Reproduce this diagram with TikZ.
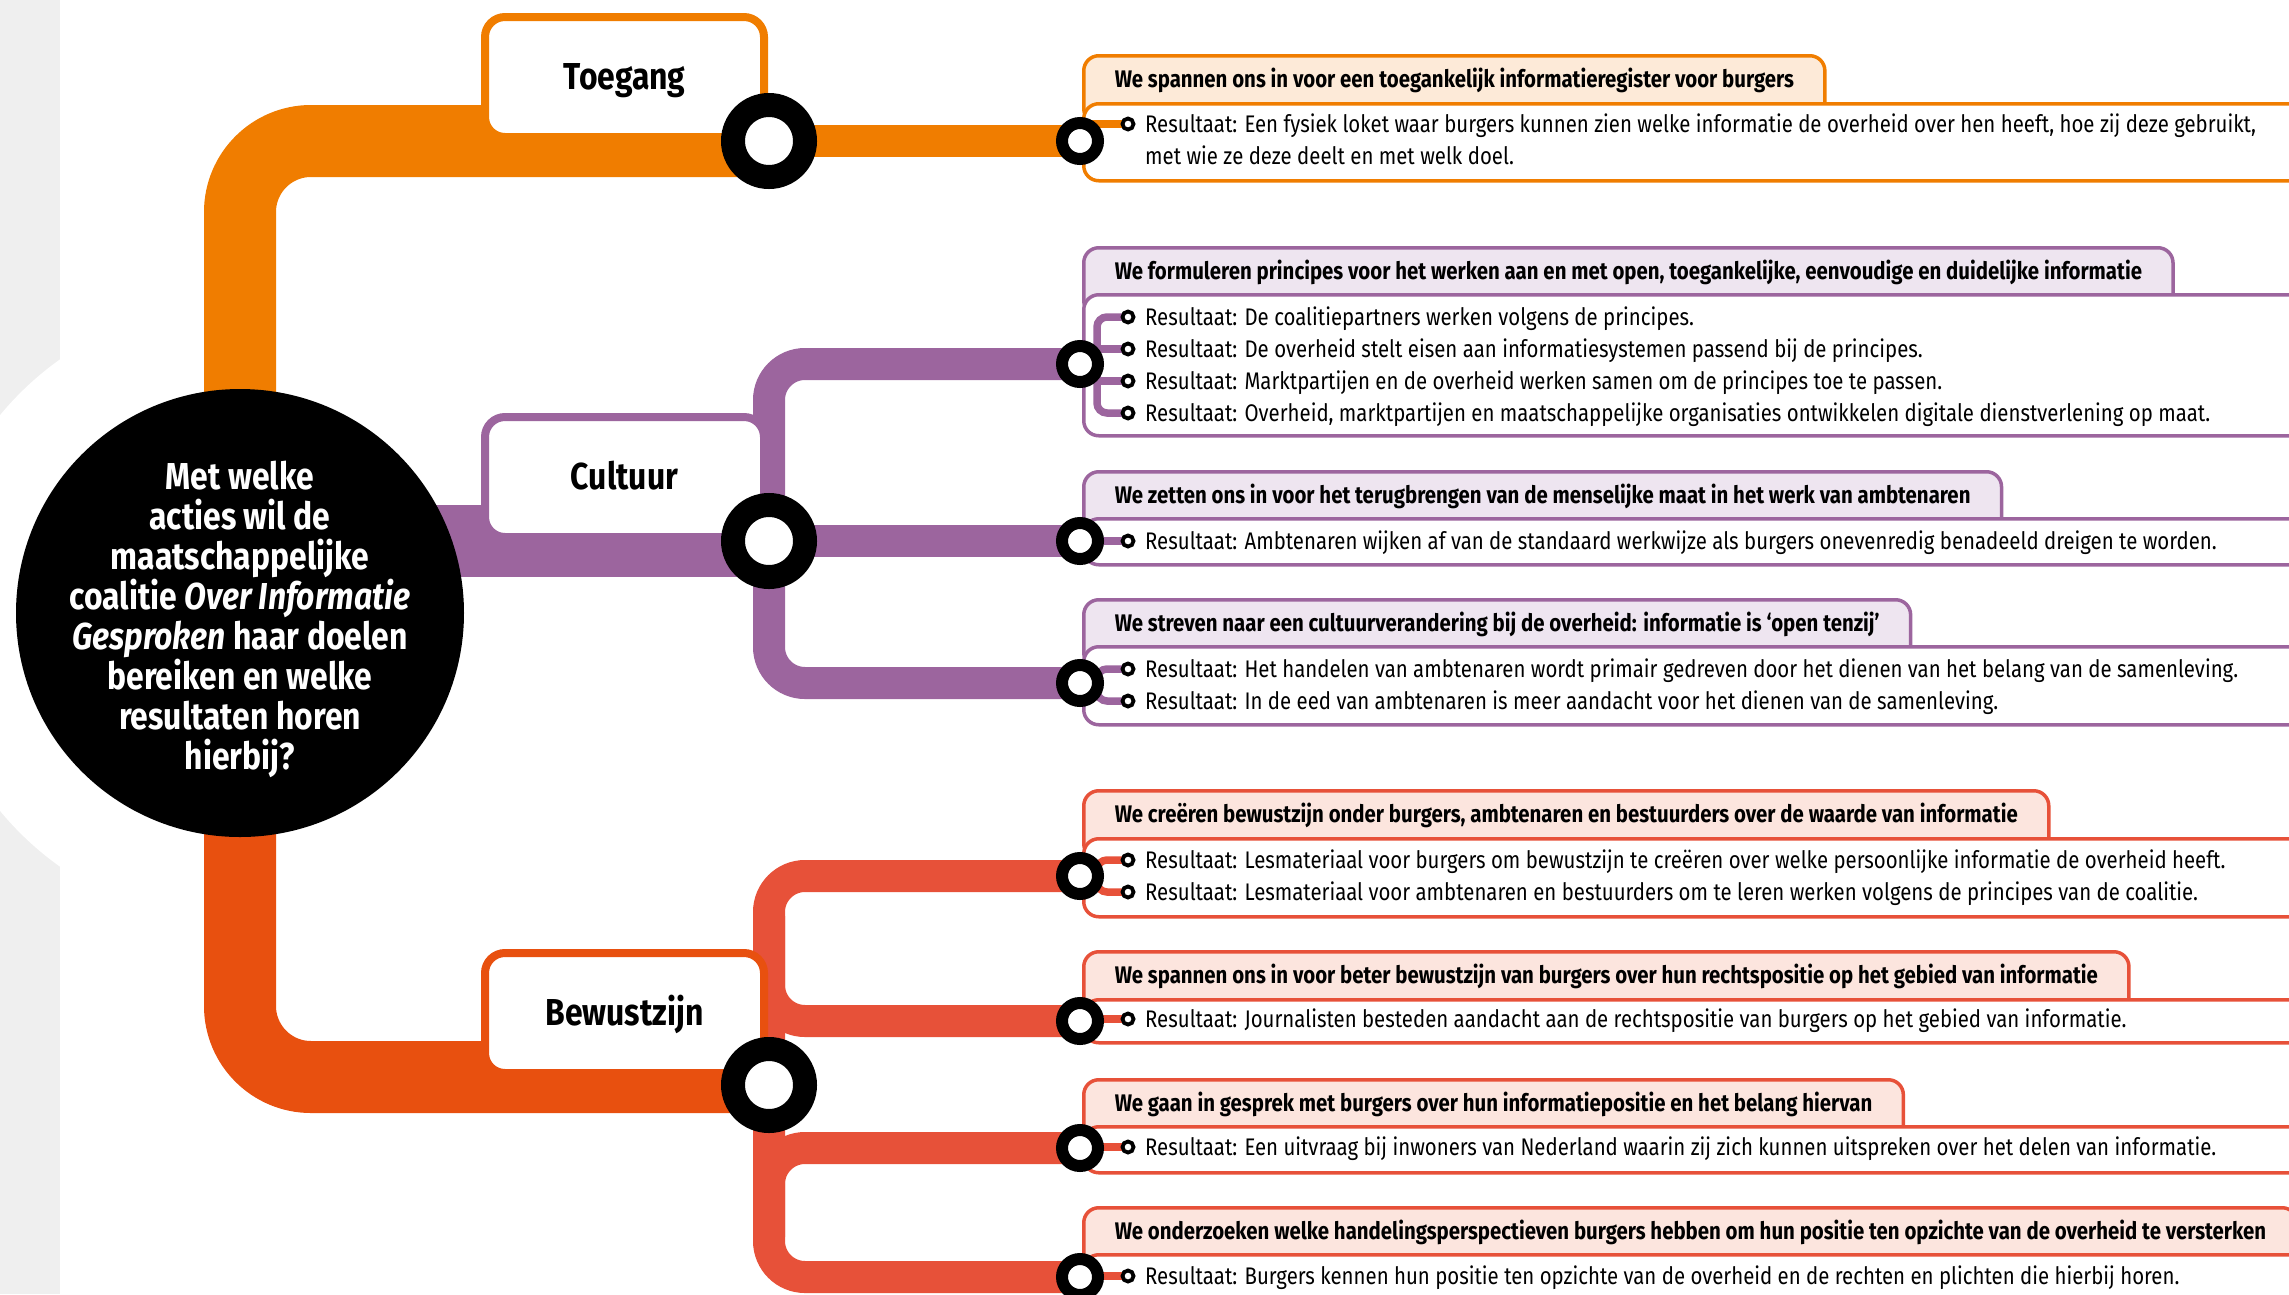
\documentclass[tikz,border=0pt]{standalone}
\usepackage{fontspec}
\setmainfont[FakeStretch=0.85]{Fira Sans}
\usetikzlibrary{positioning,calc}

\definecolor{ToegangOranje}{RGB}{240,125,0}
\definecolor{ToegangLicht}{RGB}{253,234,216}
\definecolor{CultuurPaars}{RGB}{156,101,158}
\definecolor{CultuurLicht}{RGB}{238,229,240}
\definecolor{BewustRood}{RGB}{232,80,15}
\definecolor{BewustTak}{RGB}{231,81,57}
\definecolor{BewustLicht}{RGB}{252,229,222}
\definecolor{RandGrijs}{RGB}{239,239,239}

\pgfdeclarelayer{achter}
\pgfdeclarelayer{lijnen}
\pgfdeclarelayer{voor}
\pgfsetlayers{achter,lijnen,main,voor}

\begin{document}
\begin{tikzpicture}[
	x=1pt, y=-1pt,
	vraag/.style={circle, fill=black, minimum size=448pt, inner sep=0pt},
	vraagtekst/.style={text=white, inner sep=0pt, align=center, font=\fontsize{37.5}{40}\selectfont\bfseries},
	thema/.style={draw=#1, fill=white, line width=8pt, rounded corners=20pt, minimum width=279pt, minimum height=120pt, inner sep=0pt, text height=24pt, text depth=0pt, font=\fontsize{37.5}{40}\selectfont\bfseries},
	halte/.style={circle, draw=black, fill=white, line width=24pt, minimum size=72pt, inner sep=0pt},
	tussenhalte/.style={circle, draw=black, fill=white, line width=12pt, minimum size=36pt, inner sep=0pt},
	punt/.style={circle, draw=black, fill=white, line width=3.8pt, minimum size=11pt, inner sep=0pt},
	stam/.style={line width=72pt, rounded corners=71pt},
	tak/.style={line width=32pt, rounded corners=36pt},
	haak/.style={line width=7.5pt, rounded corners=10pt},
	kop/.style 2 args={draw=#1, fill=#2, line width=3.5pt, rounded corners=15pt, anchor=north west, inner xsep=31pt, inner ysep=0pt, text height=32pt, text depth=36pt, font=\fontsize{24}{28}\selectfont\bfseries},
	resvak/.style={draw=#1, fill=white, line width=3.5pt, rounded corners=15pt, anchor=north west, minimum width=1400pt, inner sep=0pt},
	res/.style={anchor=base west, inner sep=0pt, font=\fontsize{24}{32}\selectfont}
]
	\useasboundingbox (0,0) rectangle (2289,1294);

	% centrale vraag
	\node[vraag] (vraag) at (240,613) {};
	\node[vraagtekst] (vraagtekst) at (240,619) {Met welke\\acties wil de\\maatschappelijke\\coalitie \textit{Over Informatie}\\\textit{Gesproken} haar doelen\\bereiken en welke\\resultaten horen\\hierbij?};

	\begin{pgfonlayer}{achter}
		\fill[RandGrijs] (0,0) rectangle (60,1294);
		\fill[white] (vraag.center) circle[radius=311pt];
	\end{pgfonlayer}

	% thema's
	\node[thema=ToegangOranje] (toegang) at (624.5,77) {Toegang};
	\node[thema=CultuurPaars] (cultuur) at (624.5,477) {Cultuur};
	\node[thema=BewustRood] (bewustzijn) at (624.5,1013) {Bewustzijn};

	\node[halte] (htoegang) at (769,141) {};
	\node[halte] (hcultuur) at (769,541) {};
	\node[halte] (hbewust) at (769,1085) {};

	% haltes per doel
	\begin{pgfonlayer}{voor}
		\node[tussenhalte] (t1) at (1080,141) {};
		\node[tussenhalte] (c1) at (1080,364) {};
		\node[tussenhalte] (c2) at (1080,541) {};
		\node[tussenhalte] (c3) at (1080,683) {};
		\node[tussenhalte] (b1) at (1080,876) {};
		\node[tussenhalte] (b2) at (1080,1021) {};
		\node[tussenhalte] (b3) at (1080,1148) {};
		\node[tussenhalte] (b4) at (1080,1277) {};

		\node[punt] (pt1) at (1128,124) {};
		\node[punt] (pc11) at (1128,317) {};
		\node[punt] (pc12) at (1128,349) {};
		\node[punt] (pc13) at (1128,381) {};
		\node[punt] (pc14) at (1128,413) {};
		\node[punt] (pc21) at (1128,541) {};
		\node[punt] (pc31) at (1128,669) {};
		\node[punt] (pc32) at (1128,701) {};
		\node[punt] (pb11) at (1128,860) {};
		\node[punt] (pb12) at (1128,892) {};
		\node[punt] (pb21) at (1128,1019) {};
		\node[punt] (pb31) at (1128,1147) {};
		\node[punt] (pb41) at (1128,1276) {};
	\end{pgfonlayer}

	\begin{pgfonlayer}{lijnen}
		\draw[stam, ToegangOranje] (vraag.center) |- (htoegang.center);
		\draw[stam, CultuurPaars] (vraag.center |- hcultuur.center) -- (hcultuur.center);
		\draw[stam, BewustRood] (vraag.center) |- ([yshift=8pt]hbewust.center);

		\draw[tak, ToegangOranje] (htoegang.center) -- (t1.center);
		\draw[tak, CultuurPaars] (hcultuur.center) |- (c1.center);
		\draw[tak, CultuurPaars] (hcultuur.center) -- (c2.center);
		\draw[tak, CultuurPaars] (hcultuur.center) |- (c3.center);
		\draw[tak, BewustTak] (b1.center) -| (hbewust.center) |- (b4.center);
		\draw[tak, BewustTak] ($(b1 -| hbewust)+(0,40)$) |- (b2.center);
		\draw[tak, BewustTak] ($(b4 -| hbewust)+(0,-40)$) |- (b3.center);
	\end{pgfonlayer}

	% Toegang
	\node[kop={ToegangOranje}{ToegangLicht}] (kt1) at (1082,54) {We spannen ons in voor een toegankelijk informatieregister voor burgers};
	\node[resvak=ToegangOranje, minimum height=77pt] (vt1) at (1082,102) {};
	\node[res] (rt1) at (1145,132) {Resultaat: Een fysiek loket waar burgers kunnen zien welke informatie de overheid over hen heeft, hoe zij deze gebruikt,};
	\node[res] (rt1b) at (1145,164) {met wie ze deze deelt en met welk doel.};
	\draw[haak, ToegangOranje] (pt1.center) -- (pt1 -| t1);

	% Cultuur
	\node[kop={CultuurPaars}{CultuurLicht}] (kc1) at (1082,246) {We formuleren principes voor het werken aan en met open, toegankelijke, eenvoudige en duidelijke informatie};
	\node[resvak=CultuurPaars, minimum height=141pt] (vc1) at (1082,293) {};
	\node[res] (rc11) at (1145,325) {Resultaat: De coalitiepartners werken volgens de principes.};
	\node[res] (rc12) at (1145,357) {Resultaat: De overheid stelt eisen aan informatiesystemen passend bij de principes.};
	\node[res] (rc13) at (1145,389) {Resultaat: Marktpartijen en de overheid werken samen om de principes toe te passen.};
	\node[res] (rc14) at (1145,421) {Resultaat: Overheid, marktpartijen en maatschappelijke organisaties ontwikkelen digitale dienstverlening op maat.};
	\coordinate (hc1) at (1097,364);
	\draw[haak, CultuurPaars] (pc11.center) -| (hc1) |- (pc14.center);
	\draw[haak, CultuurPaars] (pc12.center) -- (pc12 -| hc1);
	\draw[haak, CultuurPaars] (pc13.center) -- (pc13 -| hc1);

	\node[kop={CultuurPaars}{CultuurLicht}] (kc2) at (1082,470) {We zetten ons in voor het terugbrengen van de menselijke maat in het werk van ambtenaren};
	\node[resvak=CultuurPaars, minimum height=46pt] (vc2) at (1082,517) {};
	\node[res] (rc21) at (1145,549) {Resultaat: Ambtenaren wijken af van de standaard werkwijze als burgers onevenredig benadeeld dreigen te worden.};
	\draw[haak, CultuurPaars] (c2.center) -- (pc21.center);

	\node[kop={CultuurPaars}{CultuurLicht}] (kc3) at (1082,598) {We streven naar een cultuurverandering bij de overheid: informatie is ‘open tenzij’};
	\node[resvak=CultuurPaars, minimum height=78pt] (vc3) at (1082,645) {};
	\node[res] (rc31) at (1145,677) {Resultaat: Het handelen van ambtenaren wordt primair gedreven door het dienen van het belang van de samenleving.};
	\node[res] (rc32) at (1145,709) {Resultaat: In de eed van ambtenaren is meer aandacht voor het dienen van de samenleving.};
	\coordinate (hc3) at (1097,683);
	\draw[haak, CultuurPaars] (pc31.center) -| (hc3) |- (pc32.center);

	% Bewustzijn
	\node[kop={BewustTak}{BewustLicht}] (kb1) at (1082,789) {We creëren bewustzijn onder burgers, ambtenaren en bestuurders over de waarde van informatie};
	\node[resvak=BewustTak, minimum height=78pt] (vb1) at (1082,837) {};
	\node[res] (rb11) at (1145,868) {Resultaat: Lesmateriaal voor burgers om bewustzijn te creëren over welke persoonlijke informatie de overheid heeft.};
	\node[res] (rb12) at (1145,900) {Resultaat: Lesmateriaal voor ambtenaren en bestuurders om te leren werken volgens de principes van de coalitie.};
	\coordinate (hb1) at (1097,876);
	\draw[haak, BewustTak] (pb11.center) -| (hb1) |- (pb12.center);

	\node[kop={BewustTak}{BewustLicht}] (kb2) at (1082,950) {We spannen ons in voor beter bewustzijn van burgers over hun rechtspositie op het gebied van informatie};
	\node[resvak=BewustTak, minimum height=43pt] (vb2) at (1082,998) {};
	\node[res] (rb21) at (1145,1027) {Resultaat: Journalisten besteden aandacht aan de rechtspositie van burgers op het gebied van informatie.};
	\draw[haak, BewustTak] (pb21 -| b2) -- (pb21.center);

	\node[kop={BewustTak}{BewustLicht}] (kb3) at (1082,1078) {We gaan in gesprek met burgers over hun informatiepositie en het belang hiervan};
	\node[resvak=BewustTak, minimum height=46pt] (vb3) at (1082,1125) {};
	\node[res] (rb31) at (1145,1155) {Resultaat: Een uitvraag bij inwoners van Nederland waarin zij zich kunnen uitspreken over het delen van informatie.};
	\draw[haak, BewustTak] (pb31 -| b3) -- (pb31.center);

	\node[kop={BewustTak}{BewustLicht}] (kb4) at (1082,1206) {We onderzoeken welke handelingsperspectieven burgers hebben om hun positie ten opzichte van de overheid te versterken};
	\node[resvak=BewustTak, minimum height=100pt] (vb4) at (1082,1253) {};
	\node[res] (rb41) at (1145,1284) {Resultaat: Burgers kennen hun positie ten opzichte van de overheid en de rechten en plichten die hierbij horen.};
	\draw[haak, BewustTak] (pb41 -| b4) -- (pb41.center);

\end{tikzpicture}
\end{document}
